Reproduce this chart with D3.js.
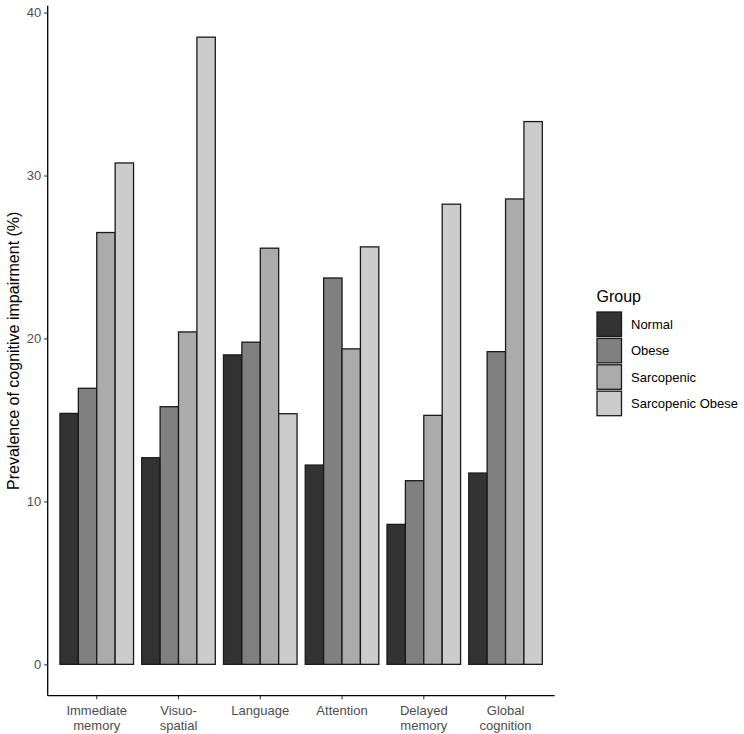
<!DOCTYPE html>
<html><head><meta charset="utf-8">
<script src="https://cdn.jsdelivr.net/npm/d3@7"></script>
<style>body{margin:0;background:#fff}svg{display:block}text{font-family:Arial,"Liberation Sans",sans-serif}</style>
</head><body><svg id="c" width="744" height="734"></svg>
<script>
const categories = [["Immediate","memory"],["Visuo-","spatial"],["Language"],["Attention"],["Delayed","memory"],["Global","cognition"]];
const groups = ["Normal","Obese","Sarcopenic","Sarcopenic Obese"];
const colors = ["#333333","#808080","#ababab","#cccccc"];
const normal     = [15.4, 12.68, 18.99, 12.23, 8.59, 11.74];
const obese      = [16.94, 15.81, 19.77, 23.71, 11.27, 19.19];
const sarcopenic = [26.5, 20.4, 25.54, 19.36, 15.28, 28.56];
const sarcObese  = [30.77, 38.49, 15.38, 25.62, 28.24, 33.31];
const yTicks = [0,10,20,30,40];
const series = [normal, obese, sarcopenic, sarcObese];

const svg = d3.select("#c");
const L = 47.7, R = 554.6, T = 5.8, B = 695.7;
const catKeys = categories.map(c => c.join(" "));
const x = d3.scaleBand().domain(catKeys).range([L, R]).paddingInner(0.1).paddingOuter(0.15);
const xi = d3.scaleBand().domain(groups).range([0, x.bandwidth()]).padding(0);
const maxV = d3.max(series.flat());
const y = d3.scaleLinear().domain([-0.05*maxV, maxV*1.05]).range([B, T]);

const data = [];
catKeys.forEach((c,i) => groups.forEach((g,j) => data.push({c, g, v: series[j][i], col: colors[j]})));

svg.append("g").selectAll("rect").data(data).join("rect")
  .attr("x", d => x(d.c) + xi(d.g))
  .attr("width", xi.bandwidth())
  .attr("y", d => y(d.v))
  .attr("height", d => y(0) - y(d.v))
  .attr("fill", d => d.col)
  .attr("stroke", "#1a1a1a").attr("stroke-width", 1.3);

// y axis
const ya = svg.append("g").attr("transform", `translate(${L},0)`)
  .call(d3.axisLeft(y).tickValues(yTicks).tickSize(3.5).tickPadding(3).tickFormat(d3.format("d")));
ya.select(".domain").attr("d", `M0,${T}V${B}`).attr("stroke","#000").attr("stroke-width",1.3);
ya.selectAll(".tick line").attr("stroke","#333").attr("stroke-width",1.1);
ya.selectAll(".tick text").attr("fill","#4d4d4d").style("font-size","13px");

// x axis
const xa = svg.append("g").attr("transform", `translate(0,${B})`)
  .call(d3.axisBottom(x).tickSize(3.5).tickFormat(""));
xa.select(".domain").attr("d", `M${L},0H${R}`).attr("stroke","#000").attr("stroke-width",1.3);
xa.selectAll(".tick line").attr("stroke","#333").attr("stroke-width",1.1);
xa.selectAll(".tick").each(function(d,i){
  const t = d3.select(this).append("text").attr("fill","#4d4d4d").attr("text-anchor","middle").style("font-size","13px");
  categories[i].forEach((line,k) => t.append("tspan").attr("x",0).attr("y", 19 + k*15).text(line));
});

// y title
svg.append("text").attr("transform", `translate(19,${(T+B)/2}) rotate(-90)`)
  .attr("text-anchor","middle").attr("fill","#000").style("font-size","16px")
  .text("Prevalence of cognitive impairment (%)");

// legend
const lg = svg.append("g").attr("transform","translate(596.5,0)");
lg.append("text").attr("x",0).attr("y",302).style("font-size","16px").attr("fill","#000").text("Group");
groups.forEach((g,j) => {
  lg.append("rect").attr("x",0.5).attr("y",312 + j*26.4).attr("width",24.5).attr("height",24.5)
    .attr("fill",colors[j]).attr("stroke","#1a1a1a").attr("stroke-width",1.3);
  lg.append("text").attr("x",34.5).attr("y",312 + j*26.4 + 17).style("font-size","13px").attr("fill","#000").text(g);
});
</script></body></html>
